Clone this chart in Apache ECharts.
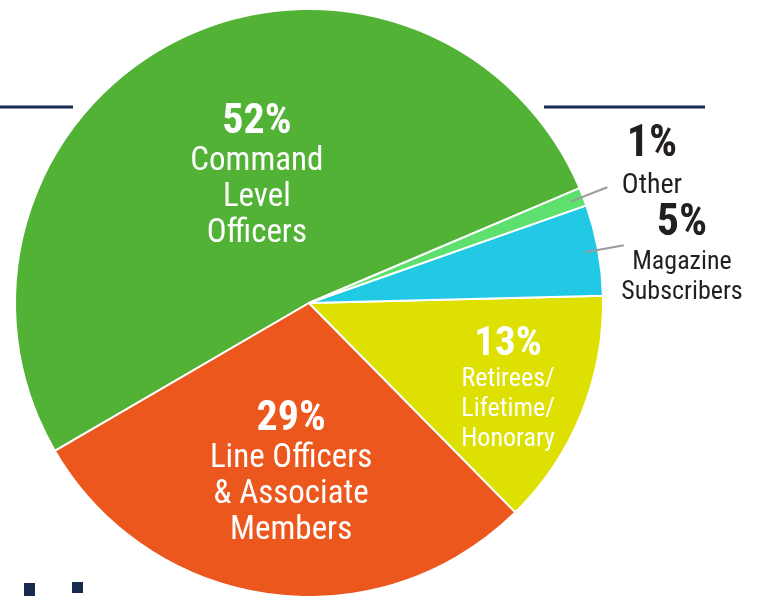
<!DOCTYPE html>
<html>
<head>
<meta charset="UTF-8">
<title></title>
<script src="https://cdn.jsdelivr.net/npm/echarts@6/dist/echarts.min.js"></script>
</head>
<body style="margin:0;background:#fff;">
<div id="member_pie" style="width:758px;height:596px;"></div>
<script>
// 数据
var categories = ['Command Level Officers', 'Line Officers & Associate Members', 'Retirees/Lifetime/Honorary', 'Magazine Subscribers', 'Other'];
var values = [52, 29, 13, 5, 1];
var labelLines = [
	['Command', 'Level', 'Officers'],
	['Line Officers', '& Associate', 'Members'],
	['Retirees/', 'Lifetime/', 'Honorary'],
	['Magazine', 'Subscribers'],
	['Other']
];

// 样式
var colors = ['#52b236', '#ec571e', '#dde000', '#22c9e4', '#5ee06e'];
var font = "'Liberation Sans Narrow', 'Roboto Condensed', 'DejaVu Sans Condensed', sans-serif";
var navy = '#16294f';
var cx = 309, cy = 303, R = 294, startAngle = 23;
// 内部标签的偏移 / 外部标签的位置
var insideShift = [[15, 8], [2, 22], [60, 31]];
var outsidePos = [[682, 254], [652, 163]];

var total = values.reduce(function (a, b) { return a + b; }, 0);
function midAngle(i) {
	var cum = 0;
	for (var k = 0; k < i; k++) cum += values[k];
	return startAngle + (cum + values[i] / 2) / total * 360;
}

var richInside = {
	p: { fontFamily: font, fontSize: 42, fontWeight: 'bold', color: '#fff', lineHeight: 42 },
	n: { fontFamily: font, fontSize: 33, color: '#fff', lineHeight: 36 },
	ps: { fontFamily: font, fontSize: 41, fontWeight: 'bold', color: '#fff', lineHeight: 38 },
	ns: { fontFamily: font, fontSize: 26, color: '#fff', lineHeight: 30 }
};
var richOutside = {
	p: { fontFamily: font, fontSize: 44, fontWeight: 'bold', color: '#231f20', lineHeight: 46 },
	n: { fontFamily: font, fontSize: 28, color: '#231f20', lineHeight: 36 },
	ns: { fontFamily: font, fontSize: 26, color: '#231f20', lineHeight: 30 }
};

var pieData = values.map(function (v, i) {
	var pk = 'p', nk = 'n', rich = richInside, outside = i >= 3;
	if (i === 2) { pk = 'ps'; nk = 'ns'; }
	if (outside) { rich = richOutside; nk = (i === 3) ? 'ns' : 'n'; }
	var text = '{' + pk + '|' + v + '%}\n{' + nk + '|' + labelLines[i].join('}\n{' + nk + '|') + '}';
	return {
		name: categories[i],
		value: v,
		itemStyle: { color: colors[i] },
		label: {
			show: true,
			position: outside ? 'outside' : 'inside',
			formatter: text,
			rich: rich,
			align: 'center'
		},
		labelLine: { show: false }
	};
});

// 外部标签的引导线（沿扇区中线）
var guideLines = [3, 4].map(function (i) {
	var a = midAngle(i) * Math.PI / 180;
	return {
		type: 'line',
		z: 100,
		shape: {
			x1: cx + (R - 13) * Math.cos(a), y1: cy - (R - 13) * Math.sin(a),
			x2: cx + (R + 26) * Math.cos(a), y2: cy - (R + 26) * Math.sin(a)
		},
		style: { stroke: '#9a9a9a', lineWidth: 2 }
	};
});

var option_pie = {
	animation: false,
	backgroundColor: '#fff',
	graphic: [
		{ type: 'line', shape: { x1: 0, y1: 107, x2: 73, y2: 107 }, style: { stroke: navy, lineWidth: 3 } },
		{ type: 'line', shape: { x1: 544, y1: 107, x2: 705, y2: 107 }, style: { stroke: navy, lineWidth: 3 } },
		{ type: 'rect', shape: { x: 24, y: 583, width: 11, height: 13 }, style: { fill: navy } },
		{ type: 'rect', shape: { x: 72, y: 582, width: 11, height: 11 }, style: { fill: navy } }
	].concat(guideLines),
	series: [{
		type: 'pie',
		center: [cx, cy],
		radius: R,
		startAngle: startAngle,
		clockwise: false,
		avoidLabelOverlap: false,
		itemStyle: { borderColor: '#fff', borderWidth: 2 },
		label: { fontFamily: font },
		emphasis: { disabled: true },
		labelLayout: function (params) {
			var i = params.dataIndex;
			if (i < 3) {
				return { dx: insideShift[i][0], dy: insideShift[i][1] };
			}
			return {
				x: outsidePos[i - 3][0],
				y: outsidePos[i - 3][1],
				align: 'center',
				verticalAlign: 'middle'
			};
		},
		data: pieData
	}]
};

var myChart = echarts.init(document.getElementById('member_pie'));
myChart.setOption(option_pie);
</script>
</body>
</html>
